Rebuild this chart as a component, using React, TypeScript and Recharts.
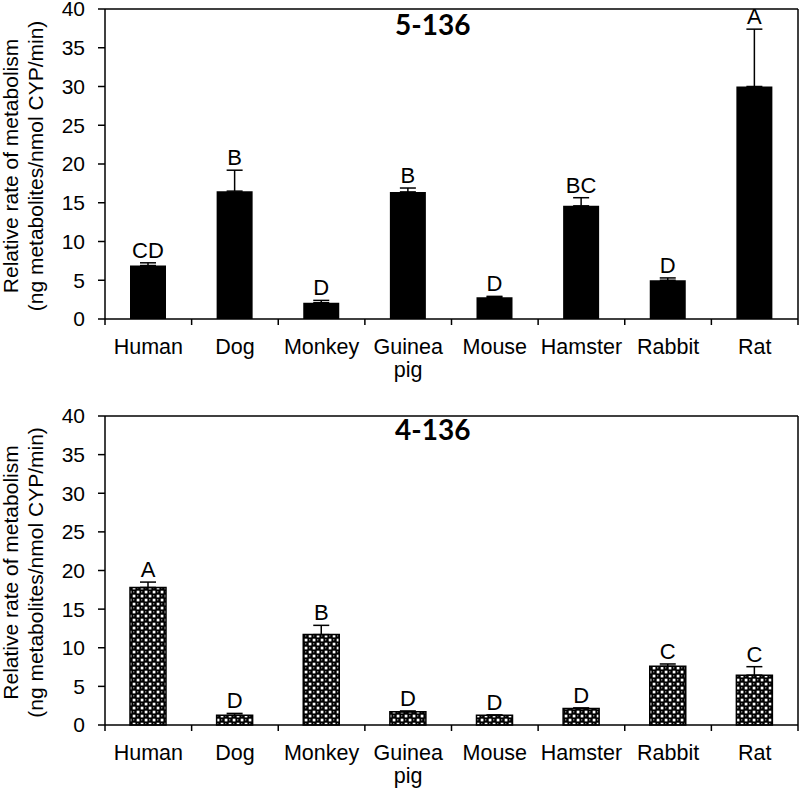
import React from 'react';
import { BarChart, Bar, XAxis, YAxis, ErrorBar, LabelList, Label, ReferenceLine } from 'recharts';

const categories = ['Human', 'Dog', 'Monkey', 'Guinea pig', 'Mouse', 'Hamster', 'Rabbit', 'Rat'];

const rate5136 = [6.9, 16.5, 2.1, 16.4, 2.8, 14.6, 5.0, 30.0];
const err5136 = [0.35, 2.7, 0.3, 0.5, 0.12, 1.05, 0.3, 7.4];
const letters5136 = ['CD', 'B', 'D', 'B', 'D', 'BC', 'D', 'A'];

const rate4136 = [17.8, 1.25, 11.7, 1.7, 1.25, 2.15, 7.6, 6.45];
const err4136 = [0.7, 0.25, 1.2, 0.12, 0.05, 0.06, 0.3, 1.1];
const letters4136 = ['A', 'D', 'B', 'D', 'D', 'D', 'C', 'C'];

const yTicks = [0, 5, 10, 15, 20, 25, 30, 35, 40];

const FONT = '"Liberation Sans", Arial, sans-serif';
const TITLE_FONT = 'Lato, "Open Sans", sans-serif';
const AXIS = { stroke: '#000', strokeWidth: 1.5 };
const TICK_SIZE = 6;
const TICK_MARGIN = 14;

const CatTick = (props: any) => {
  const { x, y, payload, visibleTicksCount } = props;
  const half = payload && typeof payload.offset === 'number' && payload.offset > 0 ? payload.offset : 43.3;
  const axisY = y - TICK_SIZE - TICK_MARGIN;
  const lines = String(payload.value).split(' ');
  const isLast = payload.index === (visibleTicksCount ? visibleTicksCount - 1 : categories.length - 1);
  return (
    <g>
      <line x1={x - half} x2={x - half} y1={axisY} y2={axisY + TICK_SIZE} stroke="#000" strokeWidth={1.5} />
      {isLast && <line x1={x + half} x2={x + half} y1={axisY} y2={axisY + TICK_SIZE} stroke="#000" strokeWidth={1.5} />}
      {lines.map((ln, i) => (
        <text key={i} x={x} y={y + 15 + i * 23} textAnchor="middle" fontFamily={FONT} fontSize={21.5} fill="#000">
          {ln}
        </text>
      ))}
    </g>
  );
};

const YLabel = (props: any) => {
  const vb = props.viewBox || { x: 0, y: 0, width: 105, height: 310 };
  const cy = vb.y + vb.height / 2 + 2;
  const x1 = vb.x + 18;
  const x2 = vb.x + 43;
  return (
    <g>
      <text transform={`rotate(-90, ${x1}, ${cy})`} x={x1} y={cy} textAnchor="middle" fontFamily={FONT} fontSize={21} fill="#000">
        Relative rate of metabolism
      </text>
      <text transform={`rotate(-90, ${x2}, ${cy})`} x={x2} y={cy} textAnchor="middle" fontFamily={FONT} fontSize={21} fill="#000">
        (ng metabolites/nmol CYP/min)
      </text>
    </g>
  );
};

const makeTitle = (title: string, dy: number) => (props: any) => {
  const vb = props.viewBox || { x: 105, y: 9, width: 693 };
  return (
    <text x={vb.x + vb.width * 0.473} y={vb.y + dy} textAnchor="middle" fontFamily={TITLE_FONT} fontWeight={700} fontSize={28} fill="#000">
      {title}
    </text>
  );
};

type PanelProps = {
  title: string;
  values: number[];
  errs: number[];
  letters: string[];
  fill: string;
  stroke?: string;
  height: number;
  marginTop: number;
  xAxisHeight: number;
  titleDy: number;
};

function Panel({ title, values, errs, letters, fill, stroke, height, marginTop, xAxisHeight, titleDy }: PanelProps) {
  const rows = categories.map((name, i) => ({
    name,
    value: values[i],
    err: errs[i],
    range: [0, errs[i]],
    letter: letters[i],
  }));

  const renderLetter = (p: any) => {
    const idx = typeof p.index === 'number' ? p.index : rows.findIndex((r) => r.letter === p.value);
    const row = rows[idx];
    if (!row) return null;
    const pxPerUnit = p.height / row.value;
    const topY = p.y - row.err * pxPerUnit;
    return (
      <text x={p.x + p.width / 2} y={topY - 5} textAnchor="middle" fontFamily={FONT} fontSize={22} fill="#000">
        {row.letter}
      </text>
    );
  };

  return (
    <BarChart width={800} height={height} data={rows} margin={{ top: marginTop, right: 2, bottom: 0, left: 0 }} barSize={36}>
      <defs>
        <pattern id="dotsPattern" patternUnits="userSpaceOnUse" width={8} height={8}>
          <rect x={0} y={0} width={8} height={8} fill="#000" />
          <rect x={0.7} y={0.7} width={2.7} height={2.7} fill="#fff" />
          <rect x={4.7} y={4.7} width={2.7} height={2.7} fill="#fff" />
          <circle cx={5.8} cy={1.8} r={0.6} fill="#fff" />
          <circle cx={1.8} cy={5.8} r={0.6} fill="#fff" />
        </pattern>
      </defs>
      <XAxis
        dataKey="name"
        interval={0}
        tick={<CatTick />}
        tickLine={false}
        tickSize={TICK_SIZE}
        tickMargin={TICK_MARGIN}
        axisLine={AXIS}
        height={xAxisHeight}
      />
      <YAxis
        domain={[0, 40]}
        ticks={yTicks}
        interval={0}
        width={105}
        tickSize={7}
        tickMargin={13}
        tickLine={AXIS}
        axisLine={AXIS}
        tick={{ fontFamily: FONT, fontSize: 21, fill: '#000' }}
      >
        <Label content={<YLabel />} />
      </YAxis>
      <ReferenceLine y={40} stroke="#000" strokeWidth={1.5} ifOverflow="visible">
        <Label content={makeTitle(title, titleDy)} />
      </ReferenceLine>
      <ReferenceLine x="Rat" position="end" stroke="#000" strokeWidth={1.5} ifOverflow="visible" />
      <Bar dataKey="value" fill={fill} stroke={stroke || 'none'} strokeWidth={stroke ? 1.5 : 0} isAnimationActive={false}>
        <ErrorBar dataKey="range" direction="y" width={8} stroke="#000" strokeWidth={1.5} />
        <LabelList dataKey="letter" content={renderLetter} />
      </Bar>
    </BarChart>
  );
}

export default function App() {
  return (
    <div style={{ position: 'absolute', left: 0, top: 0, width: 800, height: 791, background: '#fff' }}>
      <Panel
        title="5-136"
        values={rate5136}
        errs={err5136}
        letters={letters5136}
        fill="#000"
        height={390}
        marginTop={9}
        xAxisHeight={71}
        titleDy={26}
      />
      <Panel
        title="4-136"
        values={rate4136}
        errs={err4136}
        letters={letters4136}
        fill="url(#dotsPattern)"
        stroke="#000"
        height={401}
        marginTop={26}
        xAxisHeight={66}
        titleDy={24}
      />
    </div>
  );
}
